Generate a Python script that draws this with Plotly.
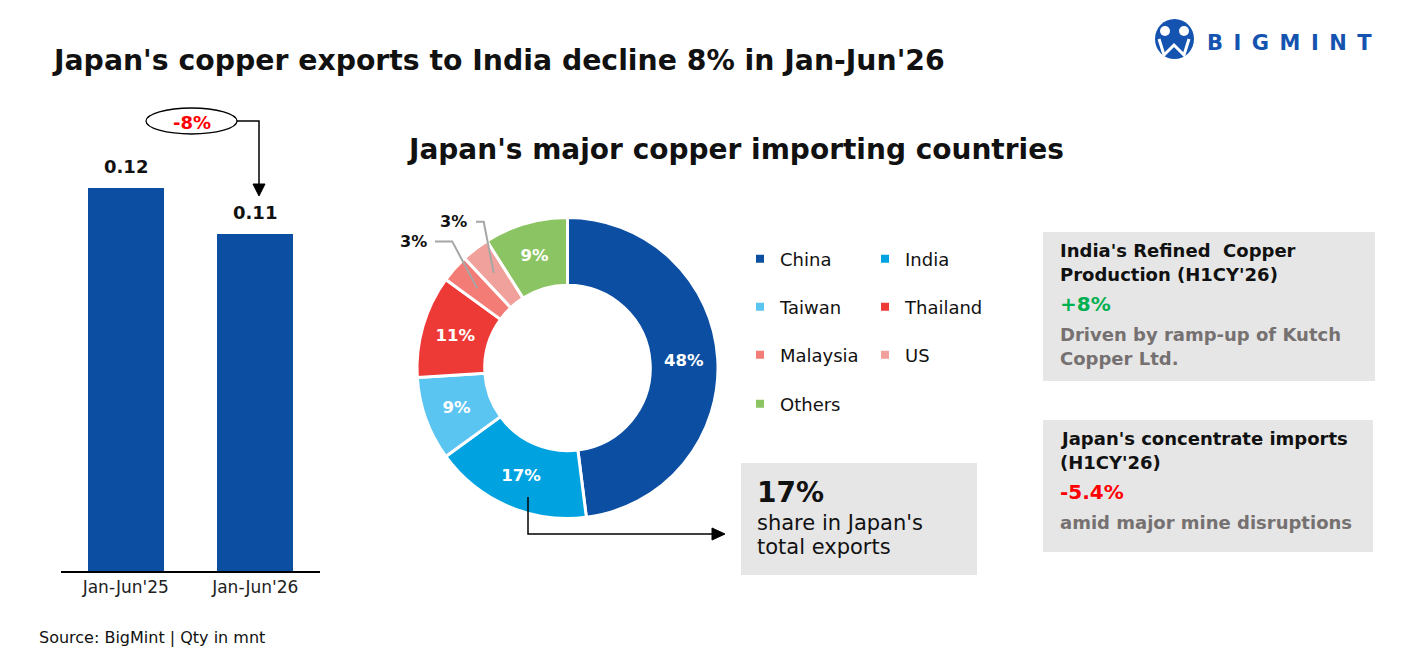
import math
import plotly.graph_objects as go

W, H = 1409, 654
FONT = "DejaVu Sans, Liberation Sans, Arial, sans-serif"

# ---------------- data ----------------
periods = ["Jan-Jun'25", "Jan-Jun'26"]
exports_mnt = [0.124, 0.109]
change_label = "-8%"

countries = ["China", "India", "Taiwan", "Thailand", "Malaysia", "US", "Others"]
shares = [48, 17, 9, 11, 3, 3, 9]
colors = ["#0B4EA2", "#00A3E0", "#5BC5F2", "#EE3A37", "#F47C76", "#F0A19C", "#8BC462"]


def px(x):
    return x / W


def py(y):
    return 1 - y / H


fig = go.Figure()

# ---------------- bar chart ----------------
fig.add_trace(go.Bar(
    x=periods, y=exports_mnt, marker=dict(color="#0B4EA2", line=dict(width=0)),
    width=0.587, showlegend=False, hoverinfo="x+y",
))
for p, v in zip(periods, exports_mnt):
    fig.add_annotation(x=p, y=v, xref="x", yref="y", yanchor="bottom", yshift=9,
                       text=f"<b>{v:.2f}</b>", showarrow=False,
                       font=dict(family=FONT, size=18, color="#111"))

# ---------------- donut ----------------
pie_x0, pie_x1, pie_y0, pie_y1 = 417, 718, 217, 519
inside_text = [f"<b>{s}%</b>" if s >= 5 else "" for s in shares]
fig.add_trace(go.Pie(
    labels=countries, values=shares, hole=0.55, sort=False, direction="clockwise",
    marker=dict(colors=colors, line=dict(color="white", width=3)),
    text=inside_text, textinfo="text", textposition="inside",
    insidetextorientation="horizontal",
    textfont=dict(family=FONT, size=16.5, color="white"),
    domain=dict(x=[px(pie_x0), px(pie_x1)], y=[py(pie_y1), py(pie_y0)]),
    showlegend=False, hoverinfo="label+percent",
))

# leader labels for small slices, computed from slice mid-angles
cx, cy = (pie_x0 + pie_x1) / 2, (pie_y0 + pie_y1) / 2
R = (pie_x1 - pie_x0) / 2
total = sum(shares)
cum = 0
mids = []
for s in shares:
    mids.append((cum + s / 2) / total * 2 * math.pi)
    cum += s
leader_layout = {"Malaysia": ((-25, -47), 435, 413), "US": ((-10, -51), 476, 453)}
for name, ((dx, dy), hx, lx) in leader_layout.items():
    i = countries.index(name)
    th = mids[i]
    sx = cx + 0.8 * R * math.sin(th)
    sy = cy - 0.8 * R * math.cos(th)
    ex, ey = sx + dx, sy + dy
    fig.add_shape(type="path", xref="paper", yref="paper",
                  path=f"M{px(sx)},{py(sy)} L{px(ex)},{py(ey)} L{px(hx)},{py(ey)}",
                  line=dict(color="#A6A6A6", width=2))
    fig.add_annotation(x=px(lx), y=py(ey), xref="paper", yref="paper", showarrow=False,
                       text=f"<b>{shares[i]}%</b>", xanchor="center", yanchor="middle",
                       font=dict(family=FONT, size=16, color="#111"))

# legend: dummy traces in 4 row legends
rows = [(0, 259), (2, 307), (4, 355), (6, 404)]
for r, (start, yrow) in enumerate(rows):
    lname = "legend" if r == 0 else f"legend{r + 1}"
    for k in range(start, min(start + 2, len(countries))):
        fig.add_trace(go.Scatter(
            x=[None], y=[None], mode="markers", name=countries[k],
            marker=dict(symbol="square", size=8, color=colors[k]),
            legend=lname, showlegend=True, hoverinfo="skip"))
    fig.update_layout(**{lname: dict(
        orientation="h", x=px(740), xanchor="left", y=py(yrow), yanchor="middle",
        entrywidth=80, entrywidthmode="pixels", bgcolor="rgba(0,0,0,0)",
        font=dict(family=FONT, size=18, color="#111"), itemclick=False, itemdoubleclick=False)})

# ---------------- shapes ----------------
shapes = []
# divider
shapes.append(dict(type="line", xref="paper", yref="paper", x0=px(354), x1=px(354),
                   y0=py(97), y1=py(600), line=dict(color="#C8C8C8", width=1)))
# -8% bracket
shapes.append(dict(type="path", xref="paper", yref="paper",
                   path=f"M{px(129)},{py(143)} L{px(129)},{py(121)} L{px(146)},{py(121)}",
                   line=dict(color="black", width=1.5)))
shapes.append(dict(type="path", xref="paper", yref="paper",
                   path=f"M{px(237)},{py(121)} L{px(259)},{py(121)} L{px(259)},{py(186)}",
                   line=dict(color="black", width=1.5)))
shapes.append(dict(type="path", xref="paper", yref="paper",
                   path=f"M{px(253)},{py(184)} L{px(265)},{py(184)} L{px(259)},{py(196)} Z",
                   fillcolor="black", line=dict(color="black", width=1)))
shapes.append(dict(type="circle", xref="paper", yref="paper", x0=px(146), x1=px(237),
                   y0=py(134), y1=py(108), line=dict(color="black", width=1.3),
                   fillcolor="white"))
# 17% arrow
shapes.append(dict(type="path", xref="paper", yref="paper",
                   path=f"M{px(528)},{py(497)} L{px(528)},{py(534)} L{px(714)},{py(534)}",
                   line=dict(color="black", width=1.5)))
shapes.append(dict(type="path", xref="paper", yref="paper",
                   path=f"M{px(712)},{py(528)} L{px(712)},{py(540)} L{px(725)},{py(534)} Z",
                   fillcolor="black", line=dict(color="black", width=1)))
# grey boxes
for (x0, y0, x1, y1) in [(741, 463, 977, 575), (1043, 232, 1375, 381), (1043, 420, 1373, 552)]:
    shapes.append(dict(type="rect", xref="paper", yref="paper", x0=px(x0), x1=px(x1),
                       y0=py(y1), y1=py(y0), fillcolor="#E6E6E6", line=dict(width=0),
                       layer="below"))
# logo icon
shapes.append(dict(type="circle", xref="paper", yref="paper", x0=px(1155), x1=px(1194),
                   y0=py(59), y1=py(19), fillcolor="#1553B0", line=dict(width=0)))
for hx in (1165, 1184):
    shapes.append(dict(type="circle", xref="paper", yref="paper", x0=px(hx - 5), x1=px(hx + 5),
                       y0=py(36), y1=py(26), fillcolor="white", line=dict(width=0)))
shapes.append(dict(type="path", xref="paper", yref="paper",
                   path=(f"M{px(1159)},{py(39)} L{px(1164)},{py(55)} L{px(1174)},{py(45)} "
                         f"L{px(1184)},{py(55)} L{px(1189)},{py(39)}"),
                   line=dict(color="white", width=3)))

# ---------------- texts ----------------
def txt(x, y, text, size, color="#111", bold=False, xanchor="left"):
    t = f"<b>{text}</b>" if bold else text
    fig.add_annotation(x=px(x), y=py(y), xref="paper", yref="paper", showarrow=False,
                       text=t, xanchor=xanchor, yanchor="middle",
                       font=dict(family=FONT, size=size, color=color))


txt(50, 60, "Japan's copper exports to India decline 8% in Jan-Jun'26", 28.3, bold=True)
txt(405, 150, "Japan's major copper importing countries", 28, bold=True)
txt(1205, 43, "\u2002".join("BIGMINT"), 21, color="#1553B0", bold=True)
txt(192, 122, change_label, 18, color="#FF0000", bold=True, xanchor="center")
txt(37, 637, "Source: BigMint | Qty in mnt", 16)

txt(755, 492, "17%", 28, bold=True)
txt(755, 523, "share in Japan's", 21)
txt(755, 547, "total exports", 21)

txt(1058, 250, "India's Refined  Copper", 18, bold=True)
txt(1058, 274, "Production (H1CY'26)", 18, bold=True)
txt(1058, 304, "+8%", 20, color="#00B050", bold=True)
txt(1058, 334, "Driven by ramp-up of Kutch", 18, color="#767171", bold=True)
txt(1058, 358, "Copper Ltd.", 18, color="#767171", bold=True)

txt(1058, 438, "Japan's concentrate imports", 18, bold=True)
txt(1058, 462, "(H1CY'26)", 18, bold=True)
txt(1058, 492, "-5.4%", 20, color="#FF0000", bold=True)
txt(1058, 522, "amid major mine disruptions", 18, color="#767171", bold=True)

fig.update_layout(
    width=W, height=H, margin=dict(l=0, r=0, t=0, b=0),
    paper_bgcolor="white", plot_bgcolor="white",
    shapes=shapes,
    font=dict(family=FONT),
    xaxis=dict(domain=[px(61), px(320)], type="category", range=[-0.5, 1.5],
               showline=True, linecolor="black", linewidth=2, ticks="",
               showgrid=False, zeroline=False, fixedrange=True,
               tickfont=dict(family=FONT, size=17, color="#222")),
    yaxis=dict(domain=[py(571), py(100)], range=[0, 0.1525], visible=False,
               showgrid=False, zeroline=False, fixedrange=True),
    bargap=0,
)

fig.write_html("out.html", config={"displayModeBar": False},
               post_script="document.body.style.margin='0';document.body.style.padding='0';")
